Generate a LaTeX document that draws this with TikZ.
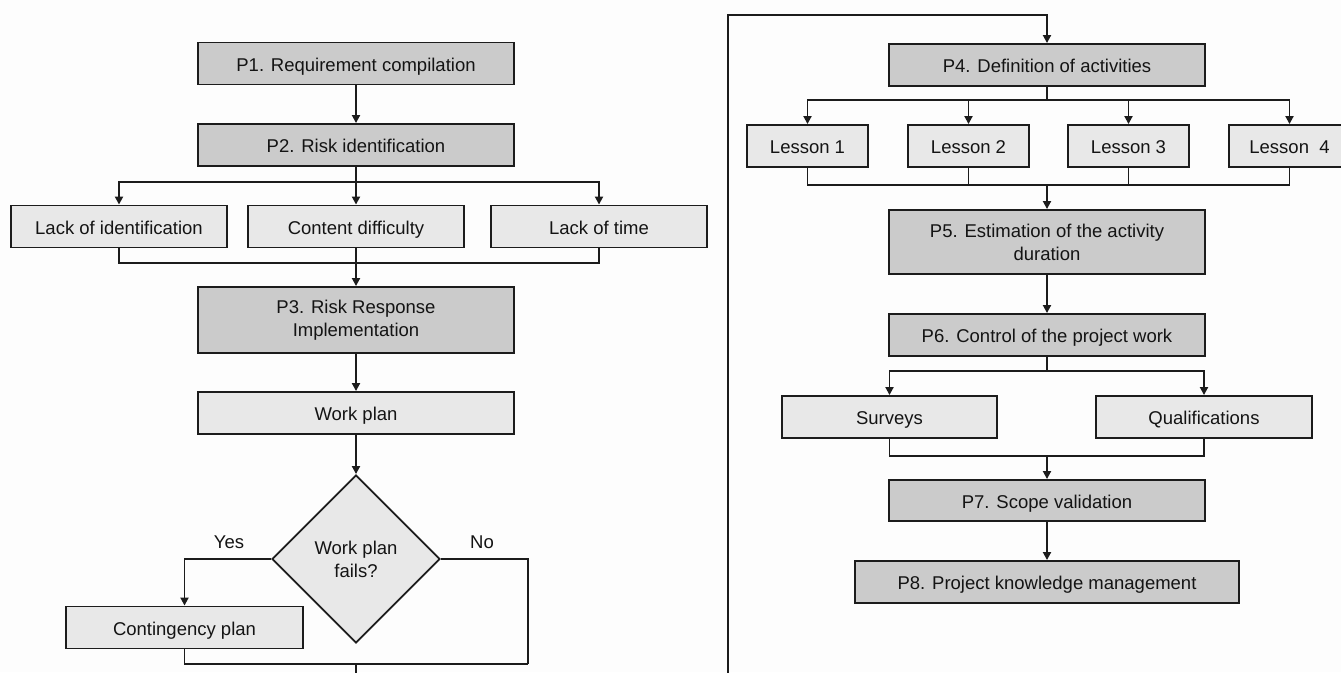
\documentclass[tikz,border=0pt]{standalone}
\usepackage{fontspec}
\setmainfont{Liberation Sans}
\usetikzlibrary{arrows.meta,shapes.geometric}
\definecolor{pdark}{RGB}{203,203,203}
\definecolor{plight}{RGB}{232,232,232}
\definecolor{ink}{RGB}{28,28,28}
\definecolor{txt}{RGB}{20,20,20}
\definecolor{bgc}{RGB}{253,253,253}
\tikzset{
  base/.style={draw=ink, line width=1.9pt, inner sep=0pt, align=center, text=txt,
    font=\fontsize{18.5}{23}\selectfont},
  oneline/.style={text height=15pt, text depth=0pt},
  darkbox2/.style={base, rectangle, fill=pdark, minimum width=316pt, minimum height=42pt},
  darkbox/.style={darkbox2, oneline},
  lightbox/.style={base, oneline, rectangle, fill=plight, minimum height=42pt},
  decbox/.style={base, diamond, fill=plight, minimum width=168pt, minimum height=168pt},
  conn/.style={draw=ink, line width=1.9pt},
  arr/.style={conn, -{Triangle[length=8pt,width=8pt]}},
  lbl/.style={text=txt, inner sep=0pt, font=\fontsize{18.5}{23}\selectfont}
}
\begin{document}
\begin{tikzpicture}[x=1pt,y=-1pt]
\useasboundingbox (0,0) rectangle (1341,672);
\clip (0,0) rectangle (1341,672);
\fill[bgc] (0,0) rectangle (1341,672);

% ---------- left flow ----------
\node[darkbox] (p1) at (356,63.5) {P1. Requirement compilation};
\node[darkbox] (p2) at (356,145) {P2. Risk identification};
\node[lightbox, minimum width=216pt] (lid) at (119,226.5) {Lack of identification};
\node[lightbox, minimum width=216pt] (cd) at (356,226.5) {Content difficulty};
\node[lightbox, minimum width=216pt] (lt) at (599,226.5) {Lack of time};
\node[darkbox2, minimum height=66pt] (p3) at (356,320) {P3. Risk Response\\Implementation};
\node[lightbox, minimum width=316pt] (wp) at (356,413) {Work plan};
\node[decbox] (dia) at (356,559) {Work plan\\fails?};
\node[lightbox, minimum width=237pt] (cp) at (184.5,627.5) {Contingency plan};
\node[lbl] (yes) at (229,542) {Yes};
\node[lbl] (no) at (482,542) {No};

\coordinate (b2) at (356,182);
\coordinate (m2) at (356,263);
\coordinate (nr) at (528,664);
\coordinate (jn) at (356,664);
\coordinate (exitL) at (356,690);

\draw[arr] (p1.south) -- (p2.north);
\draw[conn] (p2.south) -- (b2);
\draw[arr] (b2) -| (lid.north);
\draw[arr] (b2) -| (lt.north);
\draw[arr] (b2) -- (cd.north);
\draw[conn] (lid.south) |- (m2);
\draw[conn] (lt.south) |- (m2);
\draw[arr] (cd.south) -- (p3.north);
\draw[arr] (p3.south) -- (wp.north);
\draw[arr] (wp.south) -- (dia.north);
\draw[arr] (dia.west) -| (cp.north);
\draw[conn] (dia.east) -| (nr);
\draw[conn] (cp.south) |- (nr);
\draw[conn] (jn) -- (exitL);

% ---------- right flow ----------
\node[darkbox] (p4) at (1047,65) {P4. Definition of activities};
\node[lightbox, minimum width=121pt] (l1) at (807.5,146) {Lesson 1};
\node[lightbox, minimum width=121pt] (l2) at (968.5,146) {Lesson 2};
\node[lightbox, minimum width=121pt] (l3) at (1128.5,146) {Lesson 3};
\node[lightbox, minimum width=121pt] (l4) at (1289.5,146) {Lesson\ \ 4};
\node[darkbox2, minimum height=64pt] (p5) at (1047,242) {P5. Estimation of the activity\\duration};
\node[darkbox] (p6) at (1047,335) {P6. Control of the project work};
\node[lightbox, minimum width=215pt] (sv) at (889.5,417) {Surveys};
\node[lightbox, minimum width=216pt] (ql) at (1204,417) {Qualifications};
\node[darkbox, minimum height=41pt] (p7) at (1047,500.5) {P7. Scope validation};
\node[darkbox, minimum width=384pt] (p8) at (1047,582) {P8. Project knowledge management};

\coordinate (rl) at (728,690);
\coordinate (tp) at (1047,15);
\coordinate (b4) at (1047,100);
\coordinate (m4) at (1047,185);
\coordinate (b6) at (1047,371);
\coordinate (m6) at (1047,456);

\draw[arr] (rl) |- (tp) -- (p4.north);
\draw[conn] (p4.south) -- (b4);
\draw[arr] (b4) -| (l1.north);
\draw[arr] (b4) -| (l2.north);
\draw[arr] (b4) -| (l3.north);
\draw[arr] (b4) -| (l4.north);
\draw[conn] (l1.south) |- (m4);
\draw[conn] (l2.south) |- (m4);
\draw[conn] (l3.south) |- (m4);
\draw[conn] (l4.south) |- (m4);
\draw[arr] (m4) -- (p5.north);
\draw[arr] (p5.south) -- (p6.north);
\draw[conn] (p6.south) -- (b6);
\draw[arr] (b6) -| (sv.north);
\draw[arr] (b6) -| (ql.north);
\draw[conn] (sv.south) |- (m6);
\draw[conn] (ql.south) |- (m6);
\draw[arr] (m6) -- (p7.north);
\draw[arr] (p7.south) -- (p8.north);
\end{tikzpicture}
\end{document}
